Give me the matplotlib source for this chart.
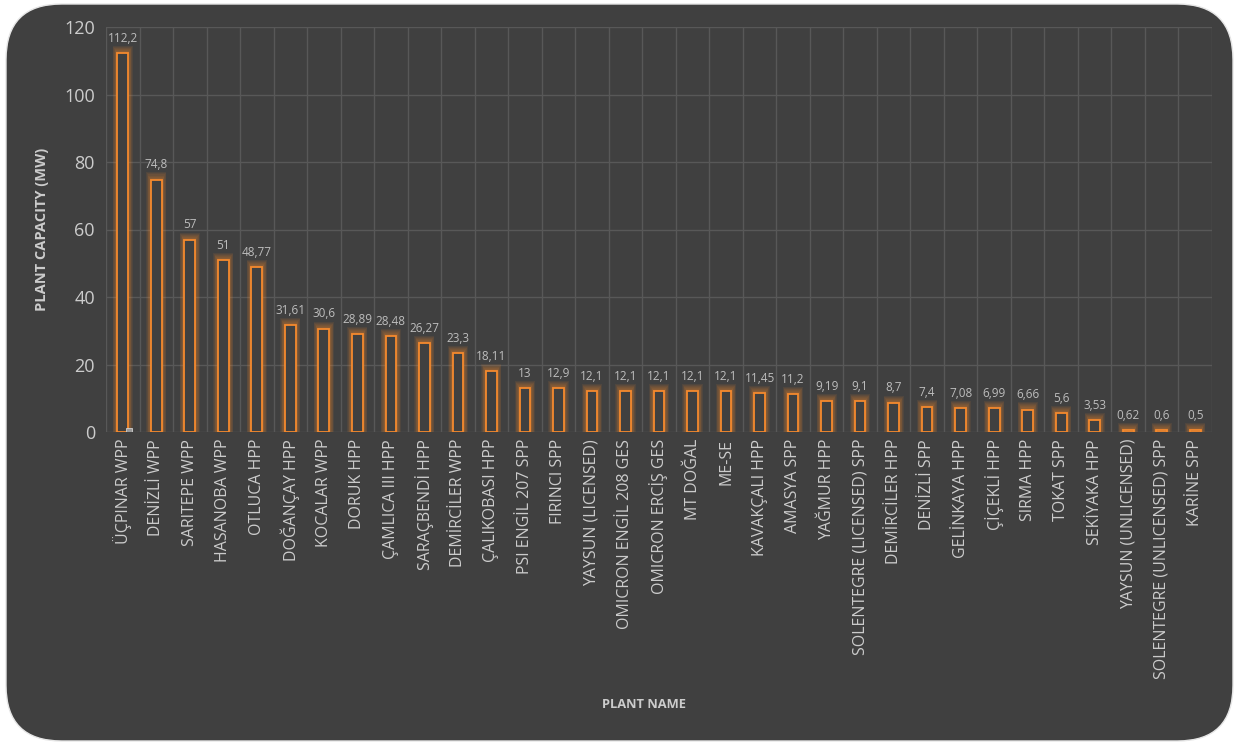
import numpy as np
import matplotlib
matplotlib.use("Agg")
import matplotlib.pyplot as plt
from matplotlib.patches import FancyBboxPatch

plt.rcParams['font.family'] = ['Open Sans', 'DejaVu Sans']

# 数据
plants = ["ÜÇPINAR WPP", "DENİZLİ WPP", "SARITEPE WPP", "HASANOBA WPP", "OTLUCA HPP",
          "DOĞANÇAY HPP", "KOCALAR WPP", "DORUK HPP", "ÇAMLICA III HPP", "SARAÇBENDİ HPP",
          "DEMİRCİLER WPP", "ÇALIKOBASI HPP", "PSI ENGİL 207 SPP", "FIRINCI SPP",
          "YAYSUN (LICENSED)", "OMICRON ENGİL 208 GES", "OMICRON ERCİŞ GES", "MT DOĞAL",
          "ME-SE", "KAVAKÇALI HPP", "AMASYA SPP", "YAĞMUR HPP", "SOLENTEGRE (LICENSED) SPP",
          "DEMİRCİLER HPP", "DENİZLİ SPP", "GELİNKAYA HPP", "ÇİÇEKLİ HPP", "SIRMA HPP",
          "TOKAT SPP", "SEKİYAKA HPP", "YAYSUN (UNLICENSED)", "SOLENTEGRE (UNLICENSED) SPP",
          "KARİNE SPP"]
capacity = [112.2, 74.8, 57, 51, 48.77, 31.61, 30.6, 28.89, 28.48, 26.27, 23.3, 18.11,
            13, 12.9, 12.1, 12.1, 12.1, 12.1, 12.1, 11.45, 11.2, 9.19, 9.1, 8.7, 7.4,
            7.08, 6.99, 6.66, 5.6, 3.53, 0.62, 0.6, 0.5]
labels = ["112,2", "74,8", "57", "51", "48,77", "31,61", "30,6", "28,89", "28,48", "26,27",
          "23,3", "18,11", "13", "12,9", "12,1", "12,1", "12,1", "12,1", "12,1", "11,45",
          "11,2", "9,19", "9,1", "8,7", "7,4", "7,08", "6,99", "6,66", "5,6", "3,53",
          "0,62", "0,6", "0,5"]
# 第一根柱子旁的小灰块（第二系列）
secondary = [1.2]

BG = "#404040"
ORANGE = "#F58A2E"
TXT = "#cccccc"

fig = plt.figure(figsize=(12.35, 7.45), dpi=100)
fig.patch.set_facecolor("white")

# 圆角背景
box = FancyBboxPatch((6 / 1235, 4 / 745), 1227 / 1235, 737 / 745,
                     boxstyle="round,pad=0,rounding_size=0.045",
                     transform=fig.transFigure, facecolor=BG, edgecolor="#e6e6e6",
                     linewidth=1.0, mutation_aspect=1235 / 745, zorder=-5)
fig.patches.append(box)

ax = fig.add_axes([106 / 1235, 1 - 432 / 745, (1212 - 106) / 1235, (432 - 27) / 745])
ax.set_facecolor("none")
ax.set_zorder(2)

x = np.arange(len(plants))
w = 0.32

# 光晕
for k in range(1, 8):
    ax.bar(x, np.array(capacity) + 0.3 * k, width=w + 0.04 * k, color=ORANGE,
           alpha=0.085, linewidth=0, zorder=2)
ax.bar(x, capacity, width=w, facecolor=BG, edgecolor=ORANGE, linewidth=1.3, zorder=3)
ax.bar([0.2], secondary, width=0.18, facecolor="#9a9a9a", edgecolor="#d0d0d0",
       linewidth=0.6, zorder=4)

for xi, v, lab in zip(x, capacity, labels):
    ax.annotate(lab, (xi, v), xytext=(0, 6), textcoords="offset points",
                ha="center", va="bottom", fontsize=8.5, color="#bdbdbd", zorder=5)

ax.set_xlim(-0.5, len(plants) - 0.5)
ax.set_ylim(0, 120)
ax.set_yticks(range(0, 121, 20))
ax.set_xticks(x)
ax.set_xticklabels(plants, rotation=90, fontsize=11.5, color=TXT)
ax.tick_params(axis="y", labelsize=13, labelcolor=TXT, length=0, pad=8)
ax.tick_params(axis="x", length=0, pad=5)

# 网格
ax.set_xticks(np.arange(-0.5, len(plants), 1), minor=True)
ax.tick_params(axis="x", which="minor", length=0)
ax.grid(True, which="minor", axis="x", color="#585858", linewidth=1.0, zorder=1)
ax.grid(True, which="major", axis="y", color="#585858", linewidth=1.0, zorder=1)
ax.set_axisbelow(True)
for s in ax.spines.values():
    s.set_visible(False)

fig.text(42 / 1235, 1 - 229 / 745, "PLANT CAPACITY (MW)", rotation=90, ha="center",
         va="center", fontsize=10.5, fontweight="bold", color=TXT)
fig.text(644 / 1235, 1 - 705 / 745, "PLANT NAME", ha="center", va="center",
         fontsize=9.3, fontweight="bold", color=TXT)

fig.savefig("out.png", dpi=100, facecolor=fig.get_facecolor())
